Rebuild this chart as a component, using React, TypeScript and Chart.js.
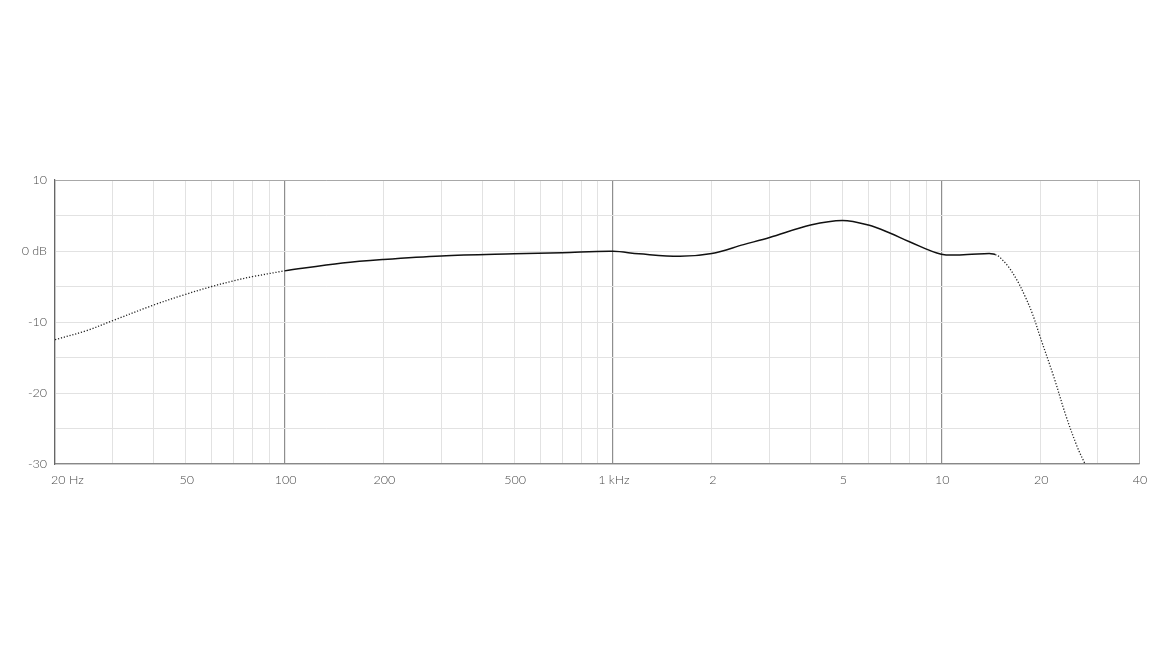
import { useEffect, useRef } from 'react';
import { Chart, registerables } from 'chart.js';

Chart.register(...registerables);

// frequency response, dotted where outside the specified range
const lowFreq = [20, 25, 30, 40, 50, 60, 70, 80, 100];
const lowDb = [-12.5, -11.2, -9.8, -7.6, -6.1, -5.0, -4.2, -3.6, -2.8];

const midFreq = [100, 150, 200, 300, 500, 700, 1000, 1200, 1600, 2000, 2500, 3000, 4000, 5000, 6000, 7000, 8000, 10000, 12000, 14000, 14600];
const midDb = [-2.8, -1.7, -1.2, -0.7, -0.4, -0.25, -0.05, -0.4, -0.75, -0.35, 0.9, 1.9, 3.65, 4.3, 3.65, 2.5, 1.3, -0.45, -0.5, -0.35, -0.5];

const highFreq = [14600, 15000, 16000, 17000, 18000, 19000, 20000, 22000, 24000, 26000, 27400];
const highDb = [-0.5, -0.8, -2.2, -4.1, -6.4, -9.0, -12.1, -17.7, -23.3, -27.7, -30];

const gridFreqs = [
  20, 30, 40, 50, 60, 70, 80, 90,
  100, 200, 300, 400, 500, 600, 700, 800, 900,
  1000, 2000, 3000, 4000, 5000, 6000, 7000, 8000, 9000,
  10000, 20000, 30000, 40000,
];
const majorFreqs = [100, 1000, 10000];

const xTickValues = [20, 50, 100, 200, 500, 1000, 2000, 5000, 10000, 20000, 40000];
const xTickLabels = ['20 Hz', '50', '100', '200', '500', '1 kHz', '2', '5', '10', '20', '40'];

const toPoints = (xs: number[], ys: number[]) => xs.map((x, i) => ({ x, y: ys[i] }));

const FONT = "300 12.5px Lato, 'Open Sans', sans-serif";

const xLabelPlugin = {
  id: 'xLabels',
  afterDraw(chart: any) {
    const ctx = chart.ctx;
    const scale = chart.scales.x;
    const y = chart.chartArea.bottom + 10;
    ctx.save();
    ctx.font = FONT;
    ctx.fillStyle = '#4a4a4a';
    ctx.textBaseline = 'top';
    xTickValues.forEach((v, i) => {
      const px = scale.getPixelForValue(v);
      if (i === 0) {
        ctx.textAlign = 'left';
        ctx.fillText(xTickLabels[i], px - 4, y);
      } else {
        ctx.textAlign = 'center';
        ctx.fillText(xTickLabels[i], px + 1, y);
      }
    });
    ctx.restore();
  },
};

export default function App() {
  const canvasRef = useRef<HTMLCanvasElement>(null);
  const chartRef = useRef<Chart | null>(null);

  useEffect(() => {
    if (!canvasRef.current) return;
    const ctx = canvasRef.current.getContext('2d');
    if (!ctx) return;
    if (chartRef.current) chartRef.current.destroy();

    const dotted = { borderColor: '#222', borderWidth: 1.3, borderDash: [1.2, 1.8] };
    const common = { pointRadius: 0, fill: false, tension: 0.35 };

    chartRef.current = new Chart(ctx, {
      type: 'line',
      data: {
        datasets: [
          { label: 'low', data: toPoints(lowFreq, lowDb), ...common, ...dotted },
          { label: 'mid', data: toPoints(midFreq, midDb), ...common, borderColor: '#111', borderWidth: 1.5 },
          { label: 'high', data: toPoints(highFreq, highDb), ...common, ...dotted },
        ],
      },
      options: {
        animation: false,
        responsive: true,
        maintainAspectRatio: false,
        layout: { padding: { top: 180, left: 0, right: 31, bottom: 166 } },
        plugins: { legend: { display: false }, tooltip: { enabled: false } },
        scales: {
          x: {
            type: 'logarithmic',
            min: 20,
            max: 40000,
            afterBuildTicks: (scale: any) => {
              scale.ticks = gridFreqs.map((v) => ({ value: v }));
            },
            afterFit: (scale: any) => {
              scale.height = 30;
            },
            ticks: { display: false },
            grid: {
              drawTicks: false,
              color: (c: any) => {
                const v = c.tick?.value;
                if (majorFreqs.includes(v)) return '#8e8e8e';
                if (v === 40000) return '#a8a8a8';
                return '#e2e2e2';
              },
              lineWidth: (c: any) => (majorFreqs.includes(c.tick?.value) ? 1.2 : 1),
            },
            border: { display: true, color: '#888', width: 1.2 },
          },
          y: {
            min: -30,
            max: 10,
            afterFit: (scale: any) => {
              scale.width = 55;
            },
            ticks: {
              stepSize: 5,
              padding: 8,
              color: '#4a4a4a',
              font: { family: "Lato, 'Open Sans', sans-serif", size: 12.5, weight: 300 },
              callback: (v: any) => (v % 10 === 0 ? (v === 0 ? '0 dB' : String(v)) : ''),
            },
            grid: {
              drawTicks: false,
              color: (c: any) => (c.tick?.value === 10 ? '#a8a8a8' : '#e2e2e2'),
            },
            border: { display: true, color: '#666', width: 1.2 },
          },
        },
      },
      plugins: [xLabelPlugin],
    });

    return () => {
      if (chartRef.current) {
        chartRef.current.destroy();
        chartRef.current = null;
      }
    };
  }, []);

  return (
    <div style={{ position: 'fixed', left: 0, top: 0, width: 1170, height: 660, background: '#fff' }}>
      <canvas ref={canvasRef} />
    </div>
  );
}
